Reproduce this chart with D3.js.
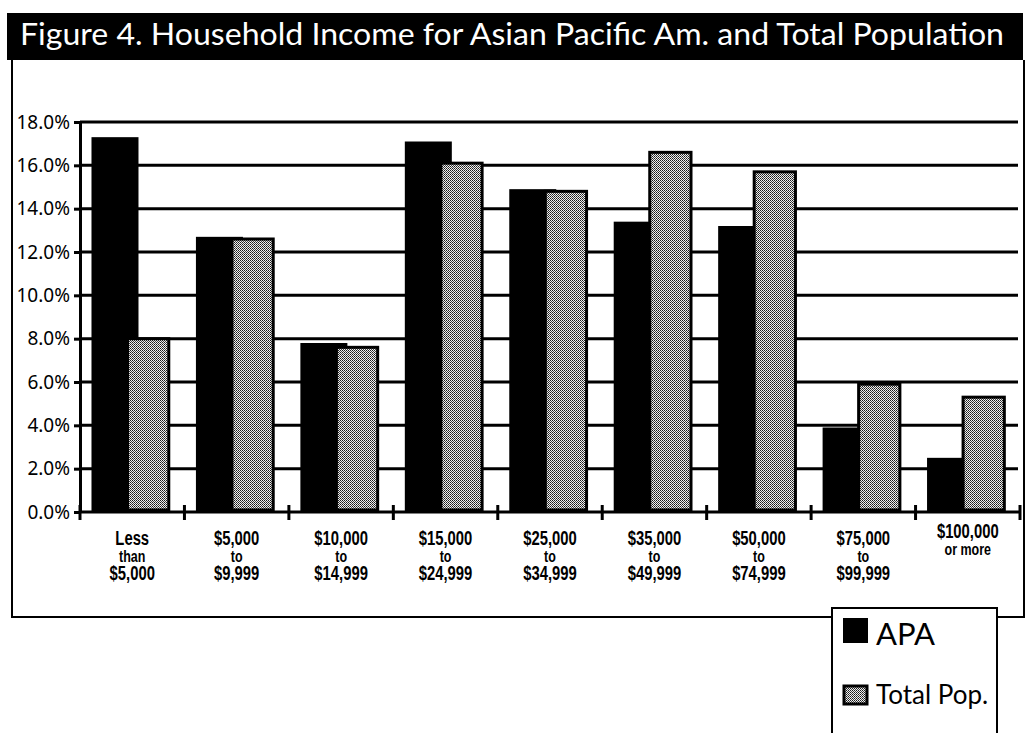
<!DOCTYPE html>
<html>
<head>
<meta charset="utf-8">
<script src="https://cdn.jsdelivr.net/npm/d3@7"></script>
<style>
  body { margin: 0; background: #fff; }
  svg { display: block; }
</style>
</head>
<body>
<div id="chart"></div>
<script>
// 世帯所得の比較 (APA vs Total)
var categories = ['lt5', '5k', '10k', '15k', '25k', '35k', '50k', '75k', '100k']
var catLabels = [
  ['Less', 'than', '$5,000'],
  ['$5,000', 'to', '$9,999'],
  ['$10,000', 'to', '$14,999'],
  ['$15,000', 'to', '$24,999'],
  ['$25,000', 'to', '$34,999'],
  ['$35,000', 'to', '$49,999'],
  ['$50,000', 'to', '$74,999'],
  ['$75,000', 'to', '$99,999'],
  ['$100,000', 'or more']
]
var apa = [17.3, 12.7, 7.8, 17.1, 14.9, 13.4, 13.2, 3.9, 2.5]
var totalPop = [8.0, 12.6, 7.6, 16.1, 14.8, 16.6, 15.7, 5.9, 5.3]
var yTicks = [0, 2, 4, 6, 8, 10, 12, 14, 16, 18]
var legendLabels = ['APA', 'Total Pop.']

var width = 1031, height = 733
var svg = d3.select('#chart').append('svg')
  .attr('width', width)
  .attr('height', height)

// dither pattern for Total Pop.
var pat = svg.append('defs').append('pattern')
  .attr('id', 'dots')
  .attr('width', 2).attr('height', 2)
  .attr('patternUnits', 'userSpaceOnUse')
pat.append('rect').attr('width', 2).attr('height', 2).attr('fill', '#f0f0f0')
pat.append('rect').attr('x', 0).attr('y', 0).attr('width', 1).attr('height', 1).attr('fill', '#1a1a1a')
pat.append('rect').attr('x', 1).attr('y', 1).attr('width', 1).attr('height', 1).attr('fill', '#444')

// outer frame
svg.append('path')
  .attr('d', 'M12,60 L12,617 L832,617 M997,617 L1024,617 L1024,60')
  .attr('fill', 'none')
  .attr('stroke', '#000')
  .attr('stroke-width', 2)

// title bar
svg.append('rect')
  .attr('x', 7).attr('y', 13)
  .attr('width', 1016).attr('height', 47)
  .attr('fill', '#000')
svg.append('text')
  .attr('x', 20).attr('y', 45)
  .attr('fill', '#fff')
  .attr('font-family', 'Lato, "Noto Sans", sans-serif')
  .attr('font-size', 30)
  .attr('textLength', 984)
  .attr('lengthAdjust', 'spacingAndGlyphs')
  .text('Figure 4. Household Income for Asian Pacific Am. and Total Population')

// scales
var x = d3.scaleBand().domain(categories).range([80, 1020]).padding(0)
var y = d3.scaleLinear().domain([0, 18]).range([512, 122])
var bw = x.bandwidth()

// gridlines
svg.append('g').selectAll('line')
  .data(yTicks.filter(function(d) { return d > 0 }))
  .enter().append('line')
  .attr('x1', 80).attr('x2', 1018)
  .attr('y1', function(d) { return y(d) })
  .attr('y2', function(d) { return y(d) })
  .attr('stroke', '#000')
  .attr('stroke-width', 3)

// APA bars
svg.append('g').selectAll('rect')
  .data(apa)
  .enter().append('rect')
  .attr('x', function(d, i) { return x(categories[i]) + bw * 0.11 })
  .attr('width', bw * 0.45)
  .attr('y', function(d) { return y(d) })
  .attr('height', function(d) { return y(0) - y(d) })
  .attr('fill', '#000')

// Total Pop. bars
svg.append('g').selectAll('rect')
  .data(totalPop)
  .enter().append('rect')
  .attr('x', function(d, i) { return x(categories[i]) + bw * 0.455 })
  .attr('width', bw * 0.395)
  .attr('y', function(d) { return y(d) })
  .attr('height', function(d) { return y(0) - y(d) - 2 })
  .attr('fill', 'url(#dots)')
  .attr('stroke', '#000')
  .attr('stroke-width', 3)

// y axis
var yAxis = svg.append('g')
  .attr('transform', 'translate(80,0)')
  .call(d3.axisLeft(y).tickValues(yTicks)
    .tickFormat(function(d) { return d.toFixed(1) + '%' })
    .tickSizeInner(6).tickSizeOuter(0).tickPadding(4))
yAxis.select('.domain').attr('stroke-width', 3)
yAxis.selectAll('.tick line').attr('stroke-width', 3)
yAxis.selectAll('text')
  .attr('font-family', '"Noto Sans", sans-serif')
  .attr('font-size', 19)
  .attr('fill', '#000')

// x axis line + boundary ticks
svg.append('line')
  .attr('x1', 80).attr('x2', 1020)
  .attr('y1', y(0)).attr('y2', y(0))
  .attr('stroke', '#000').attr('stroke-width', 3)
var bounds = categories.map(function(c) { return x(c) }).concat([x.range()[1]])
svg.append('g').selectAll('line')
  .data(bounds)
  .enter().append('line')
  .attr('x1', function(d) { return d }).attr('x2', function(d) { return d })
  .attr('y1', y(0) - 7).attr('y2', y(0) + 8)
  .attr('stroke', '#000').attr('stroke-width', 3)

// category labels (condensed look)
var lab = svg.append('g').selectAll('text')
  .data(catLabels)
  .enter().append('text')
  .attr('text-anchor', 'middle')
  .attr('font-family', '"Liberation Sans", Arial, sans-serif')
  .attr('font-weight', 'bold')
  .attr('font-size', 19)
  .attr('fill', '#000')
  .attr('transform', function(d, i) {
    return 'translate(' + (x(categories[i]) + bw / 2) + ',' + (d.length === 2 ? 538 : 545) + ') scale(0.78,1.05)'
  })
lab.selectAll('tspan')
  .data(function(d) { return d })
  .enter().append('tspan')
  .attr('x', 0)
  .attr('y', function(d, i) { return [0, 16, 33][i] })
  .attr('font-size', function(d, i) { return i === 1 ? 16 : 19 })
  .text(function(d) { return d })

// legend
var lg = svg.append('g')
lg.append('rect')
  .attr('x', 832).attr('y', 608)
  .attr('width', 165).attr('height', 140)
  .attr('fill', '#fff')
  .attr('stroke', '#000').attr('stroke-width', 2)
lg.append('rect')
  .attr('x', 843).attr('y', 618).attr('width', 25).attr('height', 25)
  .attr('fill', '#000')
lg.append('rect')
  .attr('x', 844).attr('y', 686).attr('width', 23).attr('height', 18)
  .attr('fill', 'url(#dots)')
  .attr('stroke', '#000').attr('stroke-width', 3)
lg.append('text')
  .attr('x', 876).attr('y', 645)
  .attr('font-family', 'Lato, "Noto Sans", sans-serif')
  .attr('font-size', 31)
  .text(legendLabels[0])
lg.append('text')
  .attr('x', 876).attr('y', 704)
  .attr('font-family', 'Lato, "Noto Sans", sans-serif')
  .attr('font-size', 26)
  .text(legendLabels[1])
</script>
</body>
</html>
